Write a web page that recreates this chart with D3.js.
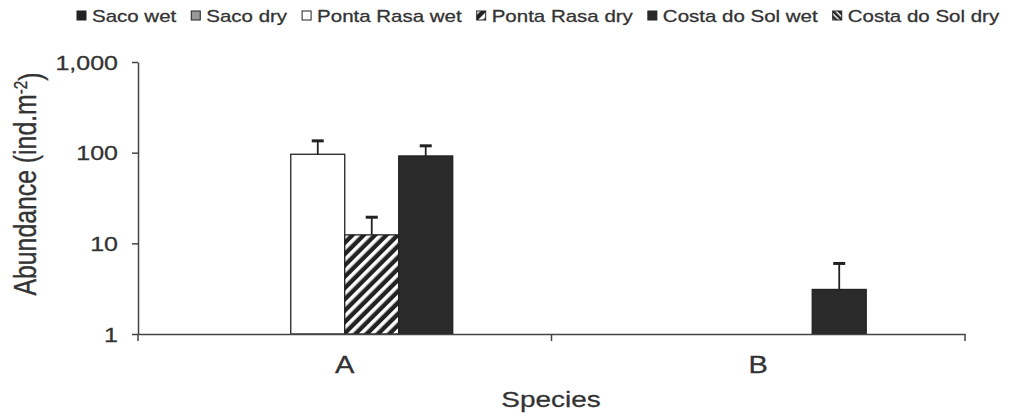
<!DOCTYPE html>
<html>
<head>
<meta charset="utf-8">
<script src="https://cdn.jsdelivr.net/npm/d3@7/dist/d3.min.js"></script>
<style>
  body { margin: 0; background: #fff; }
  text { font-family: Arial, "Liberation Sans", sans-serif; fill: #333; stroke: #333; stroke-width: 0.35px; }
</style>
</head>
<body>
<svg id="chart" width="1024" height="413"></svg>
<script>
// Data
var species = ["A", "B"];
var series = ["Saco wet", "Saco dry", "Ponta Rasa wet", "Ponta Rasa dry", "Costa do Sol wet", "Costa do Sol dry"];
// mean abundance per species, one entry per series (null = nothing drawn)
var valuesA = [null, null, 96, 12.4, 92, null];
var valuesB = [null, null, null, null, 3.1, null];
// upper error (+ SD)
var errorsA = [null, null, 39, 7, 27, null];
var errorsB = [null, null, null, null, 2.9, null];
var yTicks = [1, 10, 100, 1000];

var values = { "A": valuesA, "B": valuesB };
var errors = { "A": errorsA, "B": errorsB };

var svg = d3.select("#chart");
var SQ = 0.8; // text in the picture is squashed vertically

// Patterns
var defs = svg.append("defs");
var hatch = defs.append("pattern")
    .attr("id", "hatch")
    .attr("patternUnits", "userSpaceOnUse")
    .attr("width", 8).attr("height", 8)
    .attr("patternTransform", "rotate(45)");
hatch.append("rect").attr("width", 8).attr("height", 8).attr("fill", "#222");
hatch.append("rect").attr("x", 0).attr("width", 3.6).attr("height", 8).attr("fill", "#fff");

var hatch2 = defs.append("pattern")
    .attr("id", "hatch2")
    .attr("patternUnits", "userSpaceOnUse")
    .attr("width", 4).attr("height", 4)
    .attr("patternTransform", "rotate(-45)");
hatch2.append("rect").attr("width", 4).attr("height", 4).attr("fill", "#fff");
hatch2.append("rect").attr("width", 2.5).attr("height", 4).attr("fill", "#222");

var fills = {
  "Saco wet": "#222",
  "Saco dry": "#999",
  "Ponta Rasa wet": "#fff",
  "Ponta Rasa dry": "url(#hatch)",
  "Costa do Sol wet": "#2a2a2a",
  "Costa do Sol dry": "url(#hatch2)"
};

// Scales
var x0 = d3.scaleBand().domain(species).range([138, 965]).paddingInner(0).paddingOuter(0);
var x1 = d3.scaleBand().domain(series).range([0, x0.bandwidth()]).paddingOuter(0.83);
var y = d3.scaleLog().domain([1, 1000]).range([334, 62]);

// Y axis
var yAxis = svg.append("g")
    .attr("transform", "translate(138,0)")
    .call(d3.axisLeft(y).tickValues(yTicks).tickFormat(d3.format(",")).tickSize(6).tickSizeOuter(0));
yAxis.select(".domain").attr("stroke", "#444").attr("stroke-width", 1.5);
yAxis.selectAll(".tick line").attr("stroke", "#444").attr("stroke-width", 1.5);
yAxis.selectAll(".tick text")
    .attr("x", 0).attr("dy", "0.36em")
    .attr("transform", "translate(-20,0) scale(1," + SQ + ")")
    .style("font-size", "25px").style("fill", "#333");

// Bars
var groups = svg.append("g").selectAll("g")
    .data(species)
    .enter().append("g")
    .attr("transform", function (d) { return "translate(" + x0(d) + ",0)"; });

var barData = function (sp) {
  return series.map(function (s, i) {
    return { sp: sp, name: s, value: values[sp][i], err: errors[sp][i] };
  }).filter(function (d) { return d.value != null; });
};

groups.selectAll("rect")
    .data(function (sp) { return barData(sp); })
    .enter().append("rect")
    .attr("x", function (d) { return x1(d.name); })
    .attr("y", function (d) { return y(d.value); })
    .attr("width", x1.bandwidth())
    .attr("height", function (d) { return y(1) - y(d.value); })
    .attr("fill", function (d) { return fills[d.name]; })
    .attr("stroke", "#222")
    .attr("stroke-width", 1.3);

// Error bars (upper only)
var eb = groups.selectAll("g.err")
    .data(function (sp) { return barData(sp).filter(function (d) { return d.err != null; }); })
    .enter().append("g").attr("class", "err");
eb.append("line")
    .attr("x1", function (d) { return x1(d.name) + x1.bandwidth() / 2; })
    .attr("x2", function (d) { return x1(d.name) + x1.bandwidth() / 2; })
    .attr("y1", function (d) { return y(d.value); })
    .attr("y2", function (d) { return y(d.value + d.err); })
    .attr("stroke", "#222").attr("stroke-width", 1.8);
eb.append("line")
    .attr("x1", function (d) { return x1(d.name) + x1.bandwidth() / 2 - 6; })
    .attr("x2", function (d) { return x1(d.name) + x1.bandwidth() / 2 + 6; })
    .attr("y1", function (d) { return y(d.value + d.err); })
    .attr("y2", function (d) { return y(d.value + d.err); })
    .attr("stroke", "#222").attr("stroke-width", 3);

// X axis
var xAxis = svg.append("g")
    .attr("transform", "translate(0,334)")
    .call(d3.axisBottom(x0).tickSize(0).tickSizeOuter(0));
xAxis.select(".domain").attr("stroke", "#444").attr("stroke-width", 1.5);
xAxis.selectAll(".tick text")
    .attr("y", 0).attr("dy", 0)
    .attr("transform", "translate(0,39) scale(1," + SQ + ")")
    .style("font-size", "29px").style("fill", "#333");
// category boundary ticks
var bounds = species.map(function (d) { return x0(d); }).concat([x0.range()[1]]);
xAxis.selectAll(".bound")
    .data(bounds)
    .enter().append("line")
    .attr("class", "bound")
    .attr("x1", function (d) { return d; }).attr("x2", function (d) { return d; })
    .attr("y1", 0).attr("y2", 7)
    .attr("stroke", "#444").attr("stroke-width", 1.5);

// Axis titles
svg.append("text")
    .attr("transform", "translate(551,407) scale(1," + SQ + ")")
    .attr("text-anchor", "middle")
    .style("font-size", "28px")
    .text("Species");

var yt = svg.append("text")
    .attr("transform", "translate(36,184) scale(1," + SQ + ") rotate(-90)")
    .attr("text-anchor", "middle")
    .style("font-size", "31px");
yt.append("tspan").text("Abundance (ind.m");
yt.append("tspan").attr("dy", "-0.45em").style("font-size", "19px").text("-2");
yt.append("tspan").attr("dy", "0.45em").text(")");

// Legend
var lx = 77;
series.forEach(function (s) {
  svg.append("rect")
      .attr("x", lx).attr("y", 11)
      .attr("width", 9).attr("height", 9)
      .attr("fill", fills[s])
      .attr("stroke", "#222").attr("stroke-width", 1);
  var t = svg.append("text")
      .attr("transform", "translate(" + (lx + 15) + ",22) scale(1," + SQ + ")")
      .style("font-size", "20.5px")
      .text(s);
  lx += 15 + t.node().getComputedTextLength() + 15;
});
</script>
</body>
</html>
